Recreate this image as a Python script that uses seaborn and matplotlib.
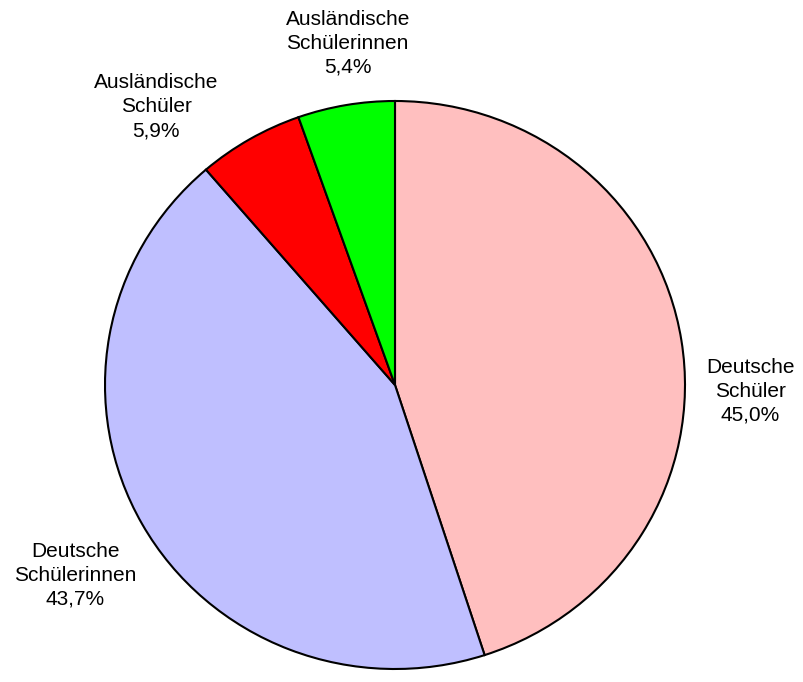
import numpy as np
import matplotlib
matplotlib.use("Agg")
import matplotlib.pyplot as plt
import seaborn as sns

# Data
labels = ["Deutsche\nSchüler", "Deutsche\nSchülerinnen", "Ausländische\nSchüler", "Ausländische\nSchülerinnen"]
shares = [45.0, 43.7, 5.9, 5.4]
colors = ["#FFBFBF", "#BFBFFF", "#FF0000", "#00FF00"]

sns.set_theme(style="white")
plt.rcParams['font.family'] = ['Liberation Sans', 'DejaVu Sans']

fig = plt.figure(figsize=(8.04, 6.82), dpi=100)
ax = fig.add_axes([0, 0, 1, 1])

wedges, _ = ax.pie(shares, colors=colors, startangle=90, counterclock=False,
                   wedgeprops=dict(edgecolor="black", linewidth=1.5))

# label placement (distance, angle nudge in degrees), roughly like the original
label_dist = [1.225, 1.29, 1.28, 1.215]
label_nudge = [-10, 2, 10, -2]
for w, lab, val, d, nd in zip(wedges, labels, shares, label_dist, label_nudge):
    ang = np.deg2rad((w.theta1 + w.theta2) / 2 + nd)
    txt = f"{lab}\n{val:.1f}%".replace(".", ",")
    ax.text(d * np.cos(ang), d * np.sin(ang), txt, ha="center", va="center",
            fontsize=15, linespacing=1.33, color="black")

# slightly squashed pie as in the source image
ax.set_aspect("auto")
ax.set_xlim(-395 / 290, (804 - 395) / 290)
ax.set_ylim(-297 / 284, 385 / 284)
ax.axis("off")

fig.savefig("out.png", dpi=100, facecolor="white")
